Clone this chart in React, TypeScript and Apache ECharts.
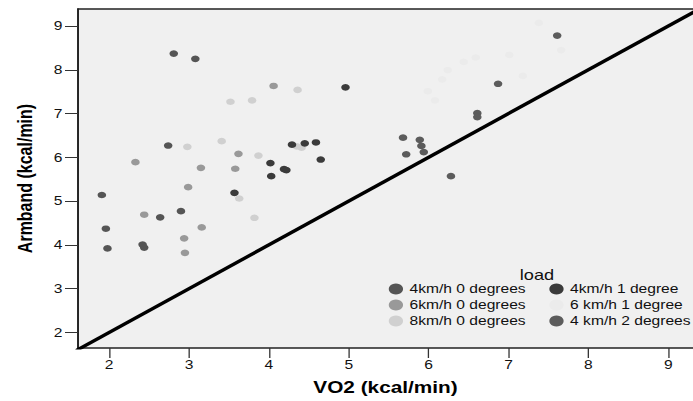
import React, { useEffect, useRef } from "react";
import * as echarts from "echarts";

// ---- data (VO2, Armband) in kcal/min ----
const kmh4deg0 = [
  [2.81, 8.37], [3.08, 8.25], [2.74, 6.27], [1.91, 5.14], [2.64, 4.63],
  [2.90, 4.77], [1.96, 4.37], [1.98, 3.92], [2.42, 4.01], [2.44, 3.94],
];
const kmh6deg0 = [
  [4.06, 7.63], [3.62, 6.08], [2.33, 5.89], [3.15, 5.76], [3.58, 5.74],
  [2.99, 5.32], [2.44, 4.69], [3.16, 4.40], [2.94, 4.15], [2.95, 3.82],
];
const kmh8deg0 = [
  [3.52, 7.27], [3.79, 7.30], [2.98, 6.24], [3.41, 6.37], [3.87, 6.04],
  [4.36, 7.54], [4.35, 6.25], [4.41, 6.22], [3.63, 5.06], [3.82, 4.62],
];
const kmh4deg1 = [
  [4.02, 5.87], [4.03, 5.57], [4.96, 7.60], [4.29, 6.29], [4.45, 6.32],
  [4.59, 6.34], [4.65, 5.95], [4.19, 5.73], [4.22, 5.71], [3.57, 5.19],
];
const kmh6deg1 = [
  [7.38, 9.07], [7.01, 8.34], [7.66, 8.45], [7.18, 7.86], [6.59, 8.28],
  [6.44, 8.18], [6.24, 7.99], [6.17, 7.78], [5.99, 7.51], [6.08, 7.30],
];
const kmh4deg2 = [
  [5.68, 6.45], [5.89, 6.40], [5.91, 6.26], [5.94, 6.12], [5.72, 6.07],
  [6.61, 7.01], [6.61, 6.92], [6.28, 5.57], [7.61, 8.78], [6.87, 7.68],
];

const seriesNames = [
  "4km/h 0 degrees",
  "6km/h 0 degrees",
  "8km/h 0 degrees",
  "4km/h 1 degree",
  "6 km/h 1 degree",
  "4 km/h 2 degrees",
];

const xTicks = [2, 3, 4, 5, 6, 7, 8, 9];
const yTicks = [2, 3, 4, 5, 6, 7, 8, 9];
const X_MIN = 1.611;
const X_MAX = 9.31;
const Y_MIN = 1.646;
const Y_MAX = 9.388;
// identity line y = x
const identity = [[0, 0], [10, 10]];

const BASE_W = 533;
const H = 401;
const STRETCH = 693 / BASE_W;

export default function App() {
  const ref = useRef<HTMLDivElement>(null);

  useEffect(() => {
    if (!ref.current) return;
    const chart = echarts.init(ref.current, null, { renderer: "svg" });
    const font = "'Liberation Sans', Arial, Helvetica, sans-serif";
    const groups = [
      { name: seriesNames[0], data: kmh4deg0, color: "#555555" },
      { name: seriesNames[1], data: kmh6deg0, color: "#999999" },
      { name: seriesNames[2], data: kmh8deg0, color: "#d0d0d0" },
      { name: seriesNames[3], data: kmh4deg1, color: "#3b3b3b" },
      { name: seriesNames[4], data: kmh6deg1, color: "#ebebeb" },
      { name: seriesNames[5], data: kmh4deg2, color: "#5c5c5c" },
    ];

    const axisLineStyle = { color: "#222", width: 1.5 };

    chart.setOption({
      animation: false,
      backgroundColor: "#ffffff",
      textStyle: { fontFamily: font },
      grid: {
        left: 60,
        right: 0,
        top: 9,
        bottom: 53,
        show: true,
        backgroundColor: "#f0f0f0",
        borderWidth: 0,
      },
      xAxis: [
        {
          type: "value",
          min: X_MIN,
          max: X_MAX,
          position: "bottom",
          name: "VO2 (kcal/min)",
          nameLocation: "middle",
          nameGap: 31,
          nameTextStyle: { fontSize: 16, fontWeight: "bold", color: "#000", fontFamily: font },
          axisLine: { show: true, onZero: false, lineStyle: axisLineStyle },
          axisTick: { show: true, length: 10, customValues: xTicks, lineStyle: { color: "#333", width: 1 } },
          axisLabel: { customValues: xTicks, fontSize: 12, color: "#111", margin: 11, fontFamily: font },
          splitLine: { show: false },
        },
        {
          type: "value",
          min: X_MIN,
          max: X_MAX,
          position: "top",
          axisLine: { show: true, onZero: false, lineStyle: axisLineStyle },
          axisTick: { show: false },
          axisLabel: { show: false },
          splitLine: { show: false },
        },
      ],
      yAxis: {
        type: "value",
        min: Y_MIN,
        max: Y_MAX,
        name: "Armband (kcal/min)",
        nameLocation: "middle",
        nameGap: 33,
        nameTextStyle: { fontSize: 16, fontWeight: "bold", color: "#000", fontFamily: font },
        axisLine: { show: true, onZero: false, lineStyle: axisLineStyle },
        axisTick: { show: true, length: 10, customValues: yTicks, lineStyle: { color: "#333", width: 1 } },
        axisLabel: { customValues: yTicks, fontSize: 12, color: "#111", margin: 12, fontFamily: font },
        splitLine: { show: false },
      },
      legend: [
        {
          data: [seriesNames[0], seriesNames[1], seriesNames[2]],
          orient: "vertical",
          left: 299,
          top: 282,
          icon: "circle",
          itemWidth: 11,
          itemHeight: 11,
          itemGap: 2,
          padding: 0,
          textStyle: { fontSize: 12, color: "#111", lineHeight: 14, fontFamily: font },
        },
        {
          data: [seriesNames[3], seriesNames[4], seriesNames[5]],
          orient: "vertical",
          left: 422.5,
          top: 282,
          icon: "circle",
          itemWidth: 11,
          itemHeight: 11,
          itemGap: 2,
          padding: 0,
          textStyle: { fontSize: 12, color: "#111", lineHeight: 14, fontFamily: font },
        },
      ],
      graphic: [
        {
          type: "text",
          x: 413,
          y: 275,
          style: {
            text: "load",
            fill: "#111",
            fontSize: 14,
            fontFamily: font,
            textAlign: "center",
            textVerticalAlign: "middle",
          },
        },
      ],
      series: [
        {
          type: "line",
          data: identity,
          showSymbol: false,
          silent: true,
          clip: true,
          z: 1,
          lineStyle: { color: "#000", width: 3.2 },
        },
        ...groups.map((g) => ({
          type: "scatter",
          name: g.name,
          data: g.data,
          symbol: "circle",
          symbolSize: 6.6,
          z: 2,
          itemStyle: { color: g.color, opacity: 1 },
        })),
      ],
    });

    return () => chart.dispose();
  }, []);

  return (
    <div
      ref={ref}
      style={{
        position: "absolute",
        left: 0,
        top: 0,
        width: BASE_W,
        height: H,
        transform: `scaleX(${STRETCH})`,
        transformOrigin: "0 0",
      }}
    />
  );
}
